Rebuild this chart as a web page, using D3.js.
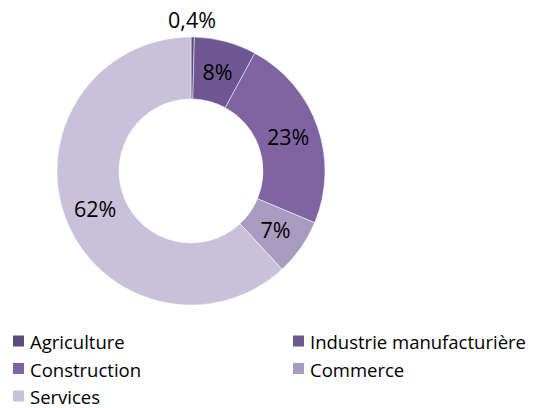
<!DOCTYPE html>
<html><head><meta charset="utf-8">
<script src="https://cdn.jsdelivr.net/npm/d3@7"></script>
<style>body{margin:0;background:#fff}svg{display:block}</style>
</head><body>
<svg id="c" width="536" height="408"></svg>
<script>
const categories = ["Agriculture","Industrie manufacturière","Construction","Commerce","Services"];
const values = [0.4, 7.5, 23.4, 6.8, 61.9];
const labels = ["0,4%","8%","23%","7%","62%"];
const colors = ["#5e4b7c","#6f5793","#8064a2","#a89bbf","#c8c1d9"];

const svg = d3.select("#c");
const cx = 191, cy = 171, rOut = 134, rIn = 72;
const font = "'Open Sans', sans-serif";
const pie = d3.pie().sort(null).value(d=>d)(values);
const arc = d3.arc().innerRadius(rIn).outerRadius(rOut);
const mid = d3.arc().innerRadius((rIn+rOut)/2).outerRadius((rIn+rOut)/2);
const g = svg.append("g").attr("transform",`translate(${cx},${cy})`);
g.selectAll("path").data(pie).join("path")
  .attr("d",arc).attr("fill",(d,i)=>colors[i])
  .attr("stroke","#fff").attr("stroke-width",0.5);
g.selectAll("text").data(pie).join("text")
  .attr("transform",(d,i)=>{const p=mid.centroid(d); if(i===0){p[0]=1;p[1]=-rOut-18;} return `translate(${p})`;})
  .attr("text-anchor","middle").attr("dominant-baseline","central")
  .attr("font-family",font).attr("font-size",21.5).attr("fill","#000")
  .text((d,i)=>labels[i]);

const legX = [13, 293], legY0 = 341, legDy = 27.5;
const lg = svg.append("g");
categories.forEach((c,i)=>{
  const x = legX[i%2], y = legY0 + Math.floor(i/2)*legDy;
  lg.append("rect").attr("x",x).attr("y",y-5.5).attr("width",11).attr("height",11).attr("fill",colors[i]);
  lg.append("text").attr("x",x+17).attr("y",y+0.5).attr("dominant-baseline","central")
    .attr("font-family",font).attr("font-size",18.5).attr("fill","#000").text(c);
});
</script>
</body></html>
